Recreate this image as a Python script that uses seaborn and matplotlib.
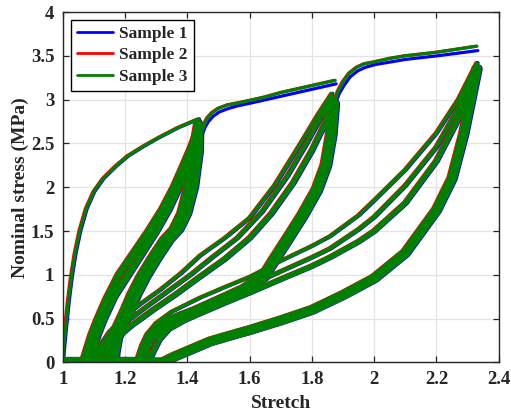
import numpy as np
import pandas as pd
import matplotlib.pyplot as plt
from matplotlib.lines import Line2D
import seaborn as sns

# ---- data (sample 3 = reference curves) ----
samples = ["Sample 1", "Sample 2", "Sample 3"]
sample_colors = ["#0000ff", "#ff0000", "#008000"]
# small stretch offset between the samples
sample_dx = [0.003, -0.003, 0.0]

# primary loading, level 1 (max stretch 1.437)
load1_s = [1.0, 1.002, 1.004, 1.01, 1.018, 1.028, 1.04, 1.055, 1.075, 1.1, 1.13, 1.17, 1.21, 1.26, 1.31, 1.37, 1.436]
load1_p = [0.0, 0.12, 0.2, 0.42, 0.7, 0.98, 1.25, 1.5, 1.75, 1.95, 2.1, 2.24, 2.36, 2.47, 2.57, 2.68, 2.78]
# reloading band, level 1
reload1a_s = [1.0, 1.065, 1.078, 1.093, 1.113, 1.14, 1.18, 1.228, 1.276, 1.32, 1.357, 1.388, 1.412, 1.43, 1.437]
reload1a_p = [0.0, 0.0, 0.15, 0.32, 0.5, 0.72, 1.0, 1.25, 1.5, 1.75, 2.0, 2.25, 2.45, 2.62, 2.72]
reload1b_s = [1.0, 1.085, 1.097, 1.112, 1.132, 1.165, 1.21, 1.255, 1.3, 1.34, 1.373, 1.4, 1.42, 1.434, 1.438]
reload1b_p = [0.0, 0.0, 0.15, 0.32, 0.5, 0.75, 1.0, 1.25, 1.5, 1.75, 2.0, 2.25, 2.45, 2.62, 2.68]
# unloading band, level 1
unload1a_s = [1.434, 1.418, 1.401, 1.379, 1.354, 1.323, 1.284, 1.248, 1.219, 1.195, 1.174, 1.158, 1.149, 1.146, 1.0]
unload1a_p = [2.74, 2.4, 2.0, 1.7, 1.52, 1.4, 1.19, 0.98, 0.78, 0.58, 0.42, 0.28, 0.12, 0.0, 0.0]
unload1b_s = [1.44, 1.438, 1.423, 1.401, 1.376, 1.345, 1.306, 1.27, 1.241, 1.217, 1.196, 1.179, 1.171, 1.168, 1.0]
unload1b_p = [2.7, 2.4, 2.0, 1.7, 1.52, 1.4, 1.19, 0.98, 0.78, 0.58, 0.42, 0.28, 0.12, 0.0, 0.0]

# primary loading, level 2 (max stretch 1.875)
load2_s = [1.437, 1.445, 1.455, 1.465, 1.48, 1.5, 1.53, 1.56, 1.6, 1.65, 1.7, 1.75, 1.8, 1.875]
load2_p = [2.5, 2.62, 2.72, 2.79, 2.85, 2.9, 2.94, 2.96, 2.99, 3.03, 3.08, 3.12, 3.16, 3.22]
load2_p_s1 = [2.5, 2.6, 2.69, 2.75, 2.81, 2.86, 2.9, 2.93, 2.96, 3.0, 3.04, 3.08, 3.12, 3.18]
# reloading bundle, level 2
reload2a_s = [1.0, 1.092, 1.115, 1.15, 1.2, 1.25, 1.313, 1.38, 1.441, 1.52, 1.6, 1.68, 1.764, 1.82, 1.864]
reload2a_p = [0.0, 0.0, 0.17, 0.35, 0.53, 0.67, 0.83, 1.02, 1.22, 1.42, 1.65, 2.02, 2.5, 2.83, 3.07]
reload2b_s = [1.0, 1.1, 1.125, 1.16, 1.21, 1.27, 1.34, 1.41, 1.48, 1.56, 1.64, 1.72, 1.78, 1.83, 1.866]
reload2b_p = [0.0, 0.0, 0.15, 0.31, 0.48, 0.64, 0.82, 1.0, 1.2, 1.42, 1.72, 2.12, 2.48, 2.8, 3.03]
reload2c_s = [1.0, 1.11, 1.135, 1.17, 1.22, 1.29, 1.36, 1.441, 1.52, 1.6, 1.67, 1.74, 1.8, 1.845, 1.868]
reload2c_p = [0.0, 0.0, 0.13, 0.27, 0.42, 0.6, 0.77, 0.98, 1.18, 1.42, 1.7, 2.05, 2.42, 2.75, 2.98]
# unloading band, level 2
unload2_s = [1.87, 1.862, 1.845, 1.816, 1.77, 1.72, 1.68, 1.645, 1.58, 1.5, 1.441, 1.38, 1.334, 1.3, 1.28, 1.265, 1.25, 1.0]
unload2_p = [2.95, 2.6, 2.25, 1.97, 1.68, 1.4, 1.18, 0.98, 0.83, 0.7, 0.6, 0.52, 0.45, 0.35, 0.29, 0.18, 0.0, 0.0]

# primary loading, level 3 (max stretch 2.33)
load3_s = [1.87, 1.875, 1.885, 1.9, 1.92, 1.945, 1.97, 2.0, 2.05, 2.1, 2.2, 2.33]
load3_p = [2.9, 3.0, 3.1, 3.2, 3.3, 3.37, 3.41, 3.43, 3.47, 3.5, 3.54, 3.61]
load3_p_s1 = [2.9, 2.98, 3.07, 3.16, 3.26, 3.33, 3.37, 3.4, 3.43, 3.46, 3.5, 3.56]
# reloading bundle, level 3
reload3a_s = [1.0, 1.235, 1.25, 1.27, 1.3, 1.35, 1.441, 1.52, 1.602, 1.7, 1.8, 1.858, 1.95, 2.0, 2.1, 2.2, 2.27, 2.33]
reload3a_p = [0.0, 0.0, 0.15, 0.32, 0.45, 0.58, 0.74, 0.86, 0.98, 1.16, 1.33, 1.44, 1.68, 1.85, 2.2, 2.62, 3.0, 3.42]
reload3b_s = [1.0, 1.255, 1.27, 1.29, 1.32, 1.37, 1.441, 1.52, 1.602, 1.7, 1.8, 1.858, 1.95, 2.0, 2.1, 2.2, 2.27, 2.33]
reload3b_p = [0.0, 0.0, 0.14, 0.3, 0.42, 0.53, 0.65, 0.77, 0.88, 1.04, 1.2, 1.3, 1.52, 1.66, 2.02, 2.46, 2.9, 3.38]
reload3c_s = [1.0, 1.275, 1.29, 1.31, 1.34, 1.39, 1.441, 1.52, 1.602, 1.7, 1.8, 1.858, 1.95, 2.0, 2.1, 2.2, 2.27, 2.33]
reload3c_p = [0.0, 0.0, 0.12, 0.26, 0.38, 0.48, 0.56, 0.68, 0.8, 0.95, 1.1, 1.2, 1.38, 1.5, 1.82, 2.3, 2.78, 3.35]
# unloading band, level 3
unload3_s = [2.33, 2.31, 2.287, 2.25, 2.2, 2.1, 2.0, 1.9, 1.8, 1.7, 1.6, 1.55, 1.473, 1.4, 1.36, 1.32, 1.0]
unload3_p = [3.35, 3.0, 2.6, 2.1, 1.74, 1.25, 0.96, 0.77, 0.6, 0.48, 0.37, 0.32, 0.24, 0.13, 0.07, 0.0, 0.0]

x_ticks = [1, 1.2, 1.4, 1.6, 1.8, 2, 2.2, 2.4]
x_tick_labels = ["1", "1.2", "1.4", "1.6", "1.8", "2", "2.2", "2.4"]
y_ticks = [0, 0.5, 1, 1.5, 2, 2.5, 3, 3.5, 4]
y_tick_labels = ["0", "0.5", "1", "1.5", "2", "2.5", "3", "3.5", "4"]

# curve list: (stretch, stress, stress for sample 1 or None, line width in pt)
curves = [
    (unload3_s, unload3_p, None, 7.0),
    (unload2_s, unload2_p, None, 8.0),
    (unload1a_s, unload1a_p, None, 5.5),
    (unload1b_s, unload1b_p, None, 5.5),
    (reload1a_s, reload1a_p, None, 5.0),
    (reload1b_s, reload1b_p, None, 5.0),
    (reload2a_s, reload2a_p, None, 2.6),
    (reload2b_s, reload2b_p, None, 3.0),
    (reload2c_s, reload2c_p, None, 3.8),
    (reload3a_s, reload3a_p, None, 2.6),
    (reload3b_s, reload3b_p, None, 3.0),
    (reload3c_s, reload3c_p, None, 3.8),
    (load1_s, load1_p, None, 2.3),
    (load2_s, load2_p, load2_p_s1, 2.3),
    (load3_s, load3_p, load3_p_s1, 2.3),
]

sns.set_style("ticks")
plt.rcParams['font.family'] = ['Liberation Serif', 'DejaVu Serif']
plt.rcParams['font.weight'] = 'bold'

fig = plt.figure(figsize=(5.11, 4.17), dpi=100)
ax = fig.add_axes([0.1227, 0.1307, 0.8533, 0.8405])

for i, (name, col, dx) in enumerate(zip(samples, sample_colors, sample_dx)):
    for s, p, p1, lw in curves:
        y = p1 if (i == 0 and p1 is not None) else p
        df = pd.DataFrame({"stretch": np.array(s) + dx, "stress": y})
        sns.lineplot(data=df, x="stretch", y="stress", ax=ax, color=col, lw=lw,
                     sort=False, estimator=None, legend=False,
                     solid_joinstyle='round', solid_capstyle='round')

ax.set_xlim(1, 2.4)
ax.set_ylim(0, 4)
ax.set_xticks(x_ticks)
ax.set_xticklabels(x_tick_labels)
ax.set_yticks(y_ticks)
ax.set_yticklabels(y_tick_labels)
ax.grid(True, color='#e3e3e3', lw=0.9)
ax.set_axisbelow(True)
for sp in ax.spines.values():
    sp.set_visible(True)
    sp.set_color('#262626')
    sp.set_linewidth(1.0)
ax.tick_params(direction='in', top=True, right=True, length=4.5, width=0.9,
               labelsize=13.5, colors='#262626', labelcolor='#262626', pad=6)
for lab in ax.get_xticklabels() + ax.get_yticklabels():
    lab.set_fontweight('bold')

ax.set_xlabel("Stretch", fontsize=14, fontweight='bold', color='#262626', labelpad=5)
ax.set_ylabel("Nominal stress (MPa)", fontsize=14, fontweight='bold', color='#262626', labelpad=1)

handles = [Line2D([], [], color=c, lw=2) for c in sample_colors]
leg = ax.legend(handles, samples, loc='upper left', frameon=True, fancybox=False,
                edgecolor='black', framealpha=1, borderaxespad=0.45, handlelength=2.1,
                handletextpad=0.35, labelspacing=0.3, borderpad=0.35,
                prop={'weight': 'bold', 'size': 12.5})
leg.get_frame().set_linewidth(1.0)

fig.savefig("out.png", dpi=100)
